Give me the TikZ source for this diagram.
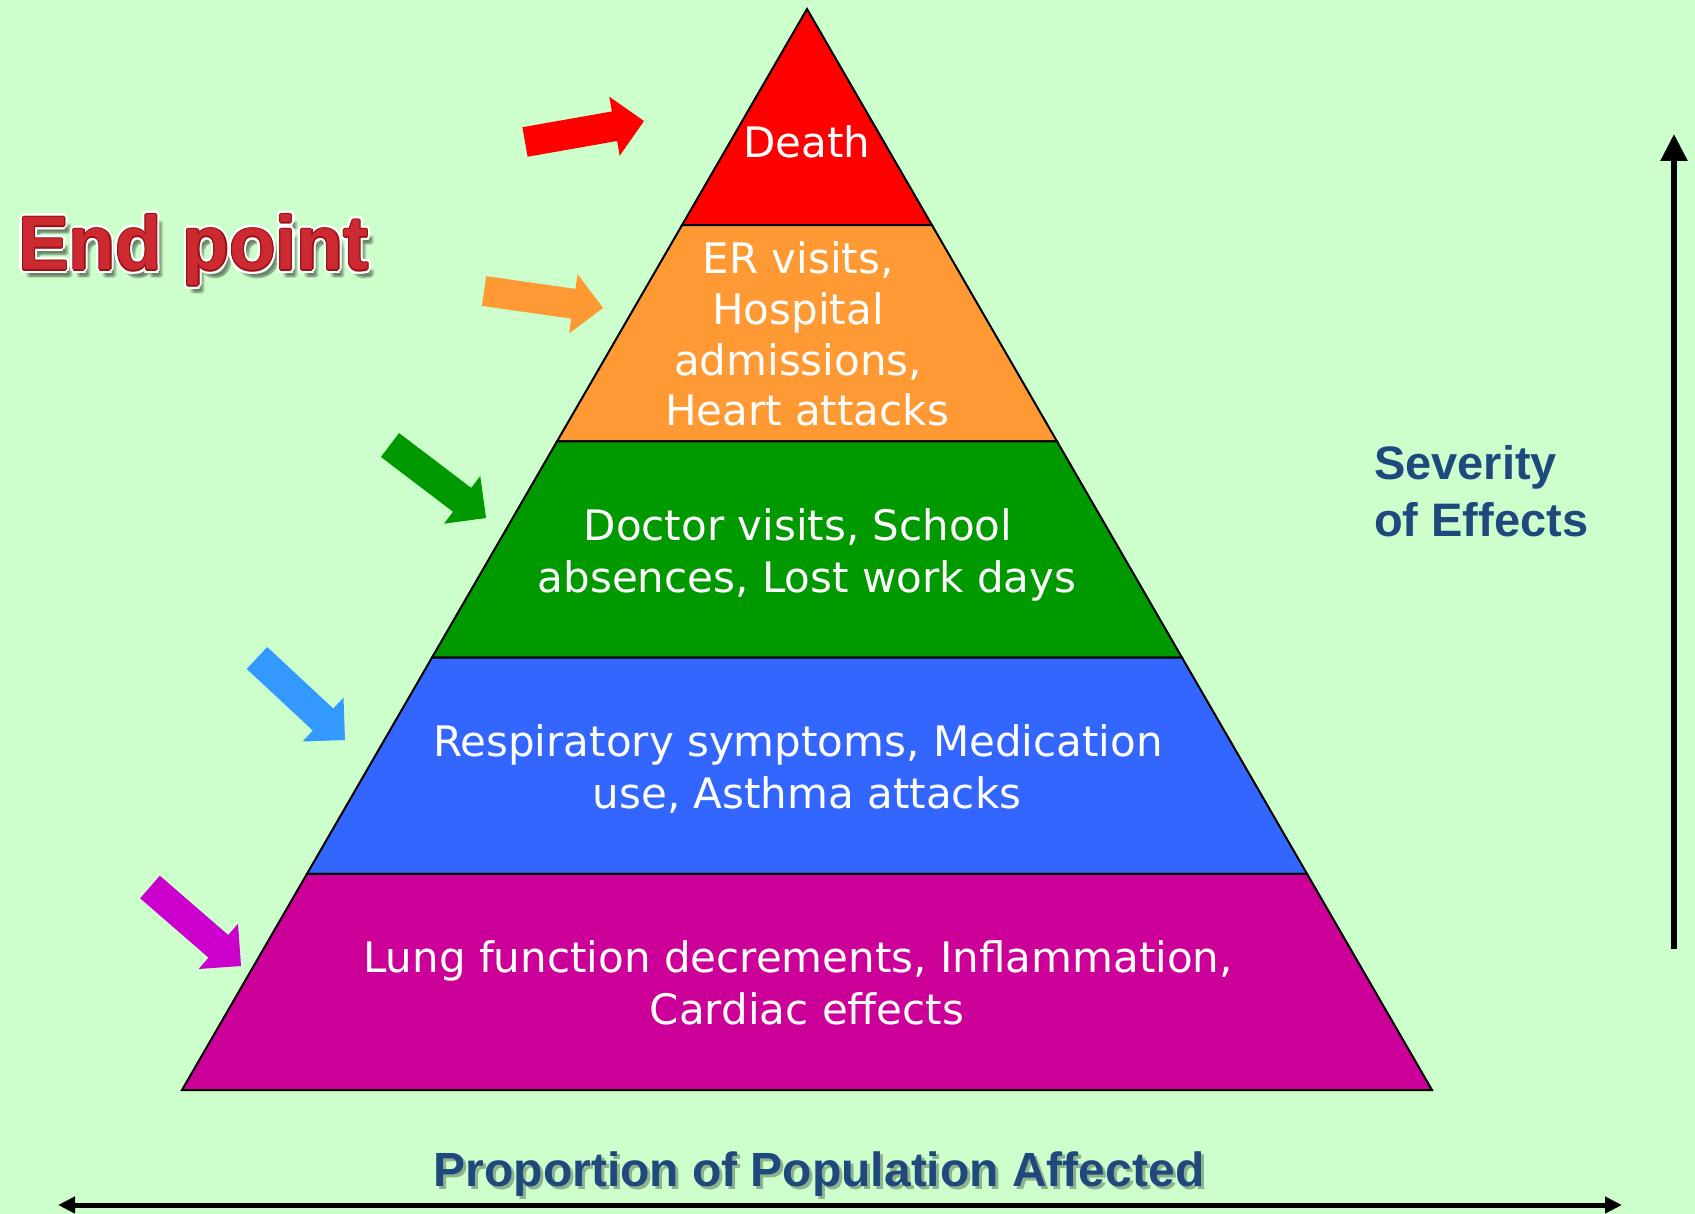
\documentclass[tikz,border=0pt]{standalone}
\usepackage{fontspec}
\newfontfamily\bandfont{DejaVu Sans}
\newfontfamily\arialfont{Liberation Sans}
\usetikzlibrary{calc,arrows.meta}
\definecolor{bg}{HTML}{CCFFCC}
\definecolor{cDeath}{HTML}{FF0000}
\definecolor{cER}{HTML}{FF9933}
\definecolor{cDoc}{HTML}{009900}
\definecolor{cResp}{HTML}{3366FF}
\definecolor{cLung}{HTML}{CC0099}
\definecolor{aBlue}{HTML}{3399FF}
\definecolor{aMag}{HTML}{CC00CC}
\definecolor{axisblue}{HTML}{1F497D}
\definecolor{epRed}{HTML}{CC2A30}
\definecolor{epDark}{HTML}{961217}
\newcommand\blockarrow[4]{%
  \coordinate (#1T) at (#3);
  \coordinate (#1P) at (#4);
  \coordinate (#1H) at ($(#1P)!30pt!(#1T)$);
  \fill[#2] ($(#1T)!15pt!90:(#1P)$) -- ($(#1H)!15pt!90:(#1P)$) -- ($(#1H)!30pt!90:(#1P)$) -- (#1P)
    -- ($(#1H)!30pt!-90:(#1P)$) -- ($(#1H)!15pt!-90:(#1P)$) -- ($(#1T)!15pt!-90:(#1P)$) -- cycle;
}
\begin{document}
\begin{tikzpicture}[x=1pt,y=-1pt,
  band/.style={draw=black,line width=2pt,line join=miter},
  bandtext/.style={text=white,font=\bandfont\fontsize{42}{51}\selectfont,anchor=base,inner sep=0pt},
  axislabel/.style={text=axisblue,font=\arialfont\bfseries\fontsize{47}{57}\selectfont,inner sep=0pt},
  eptext/.style={font=\arialfont\bfseries\fontsize{76}{90}\selectfont,inner sep=0pt,anchor=base west},
  axisarrow/.style={line width=5.5pt,draw=black}]
% background / bounding box
\fill[bg] (0,0) rectangle (1695,1214);
\useasboundingbox (0,0) rectangle (1695,1214);

% pyramid corners
\coordinate (A) at (807,9);
\coordinate (BL) at (182,1090);
\coordinate (BR) at (1432,1090);
\foreach \k in {1,2,3,4}{
  \coordinate (L\k) at ($(A)!\k/5!(BL)$);
  \coordinate (R\k) at ($(A)!\k/5!(BR)$);
}
\path[band,fill=cDeath] (A) -- (L1) -- (R1) -- cycle;
\path[band,fill=cER] (L1) -- (L2) -- (R2) -- (R1) -- cycle;
\path[band,fill=cDoc] (L2) -- (L3) -- (R3) -- (R2) -- cycle;
\path[band,fill=cResp] (L3) -- (L4) -- (R4) -- (R3) -- cycle;
\path[band,fill=cLung] (L4) -- (BL) -- (BR) -- (R4) -- cycle;

% band texts
\node[bandtext] (death) at (807,158) {Death};
\node[bandtext] (er1) at (798,273.5) {ER visits,};
\node[bandtext] (er2) at (798,324.3) {Hospital};
\node[bandtext] (er3) at (798,375.1) {admissions,};
\node[bandtext] (er4) at (807,425.9) {Heart attacks};
\node[bandtext] (doc1) at (798,540.5) {Doctor visits, School};
\node[bandtext] (doc2) at (807,592.4) {absences, Lost work days};
\node[bandtext] (resp1) at (798,756.7) {Respiratory symptoms, Medication};
\node[bandtext] (resp2) at (807,808.6) {use, Asthma attacks};
\node[bandtext] (lung1) at (798,972.9) {Lung function decrements, Inflammation,};
\node[bandtext] (lung2) at (807,1024.8) {Cardiac effects};

% block arrows
\blockarrow{ra}{cDeath}{525,142}{644,121}
\blockarrow{oa}{cER}{484,291}{603,308}
\blockarrow{ga}{cDoc}{390,445}{486,518}
\blockarrow{ba}{aBlue}{257,658}{345,740}
\blockarrow{ma}{aMag}{150,887}{241,966}

% End point label
\coordinate (ep) at (18,270);
\foreach \dx/\dy in {4/6,6/8,5/9,7/7,3/8}{
  \node[eptext,text=black,opacity=0.12] (eps\dx\dy) at ($(ep)+(\dx,\dy)$) {End point};
}
\foreach \a in {0,30,...,330}{
  \node[eptext,text=white] (epw\a) at ($(ep)+(\a:3.5pt)$) {End point};
}
\foreach \a in {0,45,...,315}{
  \node[eptext,text=epDark] (epd\a) at ($(ep)+(\a:1.2pt)$) {End point};
}
\node[eptext,text=epRed] (endpoint) at (ep) {End point};

% severity axis
\node[axislabel,anchor=base west] (sev1) at (1374,479) {Severity};
\node[axislabel,anchor=base west] (sev2) at (1374,536) {of Effects};
\coordinate (vb) at (1674,949);
\coordinate (vt) at (1674,134);
\draw[axisarrow,-{Triangle[width=26pt,length=27pt]}] (vb) -- (vt);

% proportion axis
\node[axislabel,anchor=base,text=black,opacity=0.3,font=\arialfont\bfseries\fontsize{48}{57}\selectfont] (propshadow) at (822,1189) {Proportion of Population Affected};
\node[axislabel,anchor=base,font=\arialfont\bfseries\fontsize{48}{57}\selectfont] (prop) at (819,1186) {Proportion of Population Affected};
\coordinate (hl) at (58,1205);
\coordinate (hr) at (1622,1205);
\draw[line width=5pt,{Triangle[width=16pt,length=17pt]}-{Triangle[width=16pt,length=17pt]}] (hl) -- (hr);
\end{tikzpicture}
\end{document}
